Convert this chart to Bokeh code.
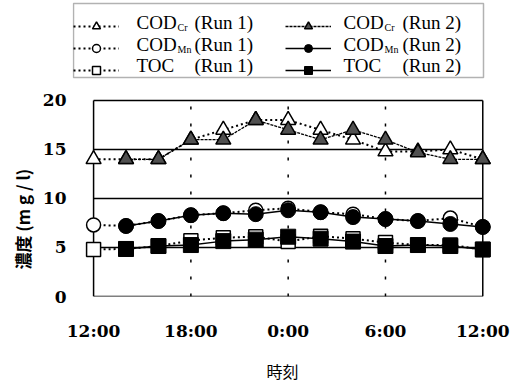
from bokeh.plotting import figure
from bokeh.models import (FixedTicker, Legend, LegendItem, Label, Range1d, Title,
                          BoxAnnotation)
from bokeh.core.properties import value
from bokeh.embed import file_html
from bokeh.resources import INLINE

# ---- data (hours after 12:00 of day 1) ----
hours_run1 = [0, 2, 4, 6, 8, 10, 12, 14, 16, 18, 20, 22, 24]
hours_run2 = [2, 4, 6, 8, 10, 12, 14, 16, 18, 20, 22, 24]

codcr_run1 = [14, 14, 14, 16, 17, 18, 18, 17, 16, 14.8, 14.8, 15, 14]
codcr_run2 = [14, 14, 16, 16, 18, 17, 16, 17, 16, 14.7, 14, 14]
codmn_run1 = [7.3, 7.2, 7.7, 8.3, 8.5, 8.8, 9.0, 8.6, 8.4, 7.9, 7.7, 8.0, 7.1]
codmn_run2 = [7.2, 7.7, 8.3, 8.5, 8.4, 8.8, 8.6, 8.1, 7.9, 7.7, 7.4, 7.1]
toc_run1 = [4.8, 4.85, 5.15, 5.7, 6.0, 6.1, 5.6, 6.15, 5.9, 5.5, 5.25, 5.25, 4.8]
toc_run2 = [4.85, 5.15, 5.25, 5.65, 5.8, 6.1, 5.9, 5.6, 5.15, 5.25, 5.15, 4.8]

x_ticks = [0, 6, 12, 18, 24]
x_tick_labels = ["12:00", "18:00", "0:00", "6:00", "12:00"]
y_ticks = [0, 5, 10, 15, 20]

TICKF = "DejaVu Serif"
SERIF = "Liberation Serif"
CJK = "Noto Sans CJK JP"

p = figure(frame_width=420, frame_height=296, output_backend="svg", toolbar_location=None,
           x_range=Range1d(-1.3, 24.6), y_range=Range1d(0, 30.2),
           min_border_left=72, min_border_right=28, min_border_top=0,
           min_border_bottom=87)
p.outline_line_color = None
p.background_fill_color = "white"
p.border_fill_color = "white"
p.grid.visible = False

# axes
p.xaxis.ticker = FixedTicker(ticks=x_ticks)
p.xaxis.major_label_overrides = {t: l for t, l in zip(x_ticks, x_tick_labels)}
p.yaxis.ticker = FixedTicker(ticks=y_ticks)
for ax in (p.xaxis, p.yaxis):
    ax.axis_line_color = None
    ax.major_tick_line_color = None
    ax.minor_tick_line_color = None
    ax.major_label_text_font = TICKF
    ax.major_label_text_font_style = "bold"
    ax.major_label_text_font_size = "17px"
    ax.major_label_text_color = "black"
p.xaxis.major_label_standoff = 18
p.yaxis.major_label_standoff = 0
p.xaxis.axis_label = "時刻"
p.xaxis.axis_label_text_font = CJK
p.xaxis.axis_label_text_font_style = "normal"
p.xaxis.axis_label_text_font_size = "16px"
p.xaxis.axis_label_text_color = "black"
p.xaxis.axis_label_standoff = 15

ytitle = Title(text="濃度 (m g / l)", align="left", offset=27, standoff=10,
               text_font=CJK, text_font_style="bold", text_font_size="17px",
               text_color="black")
p.add_layout(ytitle, "left")

# plot box and reference lines (limited to the plotted time/concentration span)
x0, x1 = x_ticks[0], x_ticks[-1]
y0, y1 = y_ticks[0], y_ticks[-1]
p.segment(x0=[x0] * len(y_ticks), x1=[x1] * len(y_ticks), y0=y_ticks, y1=y_ticks,
          line_color="black", line_width=1.5, level="underlay")
p.segment(x0=[x0, x1], x1=[x0, x1], y0=[y0, y0], y1=[y1, y1],
          line_color="black", line_width=1.5, level="underlay")
inner_x = x_ticks[1:-1]
p.segment(x0=inner_x, x1=inner_x, y0=[y0] * len(inner_x), y1=[y1] * len(inner_x),
          line_color="black", line_width=1.5, line_dash="3 14", level="underlay")

dot = "2 3"
# Run 1 (open markers, dotted)
l_cr1 = p.line(hours_run1, codcr_run1, line_color="black", line_width=2, line_dash=dot)
l_mn1 = p.line(hours_run1, codmn_run1, line_color="black", line_width=2, line_dash=dot)
l_toc1 = p.line(hours_run1, toc_run1, line_color="black", line_width=2, line_dash=dot)
m_cr1 = p.scatter(hours_run1, codcr_run1, marker="triangle", size=15, fill_color="white",
                  line_color="black", line_width=1.5)
m_mn1 = p.scatter(hours_run1, codmn_run1, marker="circle", size=14, fill_color="white",
                  line_color="black", line_width=1.5)
m_toc1 = p.scatter(hours_run1, toc_run1, marker="square", size=14, fill_color="white",
                   line_color="black", line_width=1.5)
# Run 2 (filled markers)
l_cr2 = p.line(hours_run2, codcr_run2, line_color="black", line_width=1.3, line_dash="3 1")
l_mn2 = p.line(hours_run2, codmn_run2, line_color="black", line_width=1.5)
l_toc2 = p.line(hours_run2, toc_run2, line_color="black", line_width=1.5)
m_cr2 = p.scatter(hours_run2, codcr_run2, marker="triangle", size=15, fill_color="#505050",
                  line_color="black", line_width=1.5)
m_mn2 = p.scatter(hours_run2, codmn_run2, marker="circle", size=15, fill_color="black",
                  line_color="black")
m_toc2 = p.scatter(hours_run2, toc_run2, marker="square", size=15, fill_color="black",
                   line_color="black")

# legend (markers + line samples); its frame and texts are drawn separately
FL, FB = 72.0, 296.0
blank = value(" ")
items = [
    LegendItem(label=blank, renderers=[l_cr1, m_cr1]),
    LegendItem(label=blank, renderers=[l_mn1, m_mn1]),
    LegendItem(label=blank, renderers=[l_toc1, m_toc1]),
    LegendItem(label=blank, renderers=[l_cr2, m_cr2]),
    LegendItem(label=blank, renderers=[l_mn2, m_mn2]),
    LegendItem(label=blank, renderers=[l_toc2, m_toc2]),
]
legend = Legend(items=items, ncols=2, location=(73 - FL, FB - 79.5), glyph_width=46,
                glyph_height=20, label_height=20, label_width=159, label_standoff=5,
                spacing=2, padding=5, margin=0, border_line_color=None,
                background_fill_alpha=0.0)
p.add_layout(legend, "center")
p.add_layout(BoxAnnotation(left=73 - FL, right=483 - FL, top=FB - 3, bottom=FB - 77,
                           left_units="screen", right_units="screen", top_units="screen",
                           bottom_units="screen", fill_alpha=0.0, line_color="black",
                           line_width=1.5, level="overlay"))

def lab(x, y, text, size="19px", base="middle", font=SERIF):
    p.add_layout(Label(x=x - FL, y=FB - y, x_units="screen", y_units="screen", text=text,
                       text_font=font, text_font_size=size, text_baseline=base,
                       text_color="black"))

rows = [21.5, 43.5, 65]
for cx, cx_run, run in [(136, 194, "(Run 1)"), (343, 402, "(Run 2)")]:
    lab(cx, rows[0], "COD")
    lab(cx + 41, rows[0] + 5, "Cr", size="10px")
    lab(cx_run, rows[0], run)
    lab(cx, rows[1], "COD")
    lab(cx + 41, rows[1] + 5, "Mn", size="10px")
    lab(cx_run, rows[1], run)
    lab(cx, rows[2], "TOC")
    lab(cx_run, rows[2], run)

open("out.html", "w").write(file_html(p, INLINE))
